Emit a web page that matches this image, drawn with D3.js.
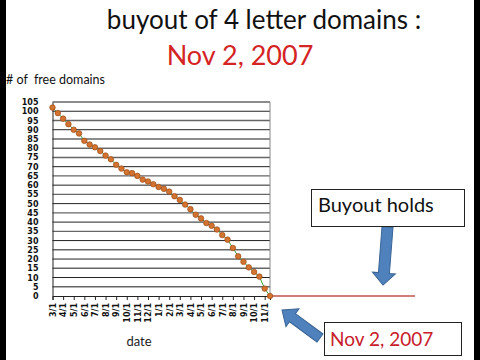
<!DOCTYPE html>
<html>
<head>
<meta charset="utf-8">
<script src="https://cdn.jsdelivr.net/npm/d3@7"></script>
<style>
  body { margin: 0; background: #fff; }
  svg { display: block; }
</style>
</head>
<body>
<svg id="chart" width="480" height="360"></svg>
<script>
// month labels under every second point (points are semi-monthly)
const months = ["3/1", "4/1", "5/1", "6/1", "7/1", "8/1", "9/1", "10/1", "11/1", "12/1",
                "1/1", "2/1", "3/1", "4/1", "5/1", "6/1", "7/1", "8/1", "9/1", "10/1", "11/1"];

// number of free 4 letter domains
const freeDomains = [102, 99, 96, 93, 90, 88, 84, 82, 80.5, 78.5,
                     76, 74, 71, 69, 67, 66.5, 65, 63, 62, 60.5,
                     59, 58, 56.5, 54, 52, 49.5, 47, 44, 42, 39.5,
                     38, 36, 33, 30.5, 26, 21.5, 18.5, 15.5, 13, 10.5,
                     4, 0];

const yTicks = [0, 5, 10, 15, 20, 25, 30, 35, 40, 45, 50, 55, 60, 65, 70, 75, 80, 85, 90, 95, 100, 105];

const svg = d3.select("#chart");
const font = "Lato, 'Open Sans', sans-serif";

const plotL = 52.5, plotR = 270, plotT = 102, plotB = 296;

const x = d3.scaleLinear()
    .domain([0, freeDomains.length - 1])
    .range([plotL, plotR]);

const y = d3.scaleLinear()
    .domain([0, 105])
    .range([plotB, plotT]);

// black strips at the sides
svg.append("rect").attr("x", 0).attr("y", 0).attr("width", 6).attr("height", 360).attr("fill", "#000");
svg.append("rect").attr("x", 474).attr("y", 0).attr("width", 6).attr("height", 360).attr("fill", "#000");

// title
svg.append("text")
    .attr("x", 264).attr("y", 29)
    .attr("text-anchor", "middle")
    .attr("font-family", font).attr("font-size", 26)
    .attr("fill", "#111")
    .text("buyout of 4 letter domains :");

svg.append("text")
    .attr("x", 240).attr("y", 65)
    .attr("text-anchor", "middle")
    .attr("font-family", font).attr("font-size", 27)
    .attr("fill", "#d42424")
    .text("Nov 2, 2007");

svg.append("text")
    .attr("x", 6).attr("y", 84)
    .attr("font-family", font).attr("font-size", 12.5)
    .attr("fill", "#111")
    .style("white-space", "pre")
    .text("# of  free domains");

// gridlines
svg.append("g")
    .selectAll("line")
    .data(yTicks.filter(d => d > 0))
    .enter()
    .append("line")
    .attr("x1", plotL).attr("x2", plotR)
    .attr("y1", d => y(d)).attr("y2", d => y(d))
    .attr("stroke", (d, i) => i % 2 ? "#222" : "#666")
    .attr("stroke-width", (d, i) => i % 2 ? 1 : 1.4);

// right border of plot
svg.append("line")
    .attr("x1", plotR).attr("x2", plotR)
    .attr("y1", plotT).attr("y2", plotB)
    .attr("stroke", "#888");

// y axis
const yAxis = svg.append("g")
    .attr("transform", `translate(${plotL},0)`)
    .call(d3.axisLeft(y).tickValues(yTicks).tickSize(0).tickPadding(14));
yAxis.select(".domain").attr("stroke", "#222");
yAxis.selectAll("text")
    .attr("font-family", "'DejaVu Sans', Verdana, sans-serif")
    .attr("font-weight", "bold")
    .attr("font-size", 8)
    .attr("fill", "#111");

// x axis
const xAxis = svg.append("g")
    .attr("transform", `translate(0,${plotB})`)
    .call(d3.axisBottom(x)
        .tickValues(months.map((m, i) => i * 2))
        .tickFormat(i => months[i / 2])
        .tickSize(4));
xAxis.select(".domain").attr("stroke", "#222");
xAxis.selectAll("line").attr("stroke", "#222");
xAxis.selectAll("text")
    .attr("transform", "rotate(-90)")
    .attr("text-anchor", "end")
    .attr("x", -7).attr("y", 0).attr("dy", "0.35em")
    .attr("font-family", "'DejaVu Sans', Verdana, sans-serif")
    .attr("font-weight", "bold")
    .attr("font-size", 8)
    .attr("fill", "#111");

svg.append("text")
    .attr("x", 139).attr("y", 346)
    .attr("text-anchor", "middle")
    .attr("font-family", font).attr("font-size", 13)
    .attr("fill", "#222")
    .text("date");

// flat line after the buyout
const last = freeDomains.length - 1;
svg.append("line")
    .attr("x1", x(last)).attr("x2", 415)
    .attr("y1", y(0)).attr("y2", y(0))
    .attr("stroke", "#c0504d")
    .attr("stroke-width", 1.5);

// series line and points
const line = d3.line()
    .x((d, i) => x(i))
    .y(d => y(d));

svg.append("path")
    .datum(freeDomains)
    .attr("d", line)
    .attr("fill", "none")
    .attr("stroke", "#3f9a3a")
    .attr("stroke-width", 1);

svg.append("g")
    .selectAll("circle")
    .data(freeDomains)
    .enter()
    .append("circle")
    .attr("cx", (d, i) => x(i))
    .attr("cy", d => y(d))
    .attr("r", 2.8)
    .attr("fill", "#d4722f")
    .attr("stroke", "#8f4512")
    .attr("stroke-width", 0.6);

// block arrow from tail to tip
function arrow(x0, y0, x1, y1, shaft, head, headLen) {
    const len = Math.hypot(x1 - x0, y1 - y0);
    const ang = Math.atan2(y1 - y0, x1 - x0) * 180 / Math.PI;
    const s = shaft / 2, h = head / 2, b = len - headLen;
    const pts = [[0, -s], [b, -s], [b, -h], [len, 0], [b, h], [b, s], [0, s]];
    svg.append("polygon")
        .attr("points", pts.map(p => p.join(",")).join(" "))
        .attr("transform", `translate(${x0},${y0}) rotate(${ang})`)
        .attr("fill", "#4f81bd")
        .attr("stroke", "#3a6595")
        .attr("stroke-width", 1);
}

arrow(387.5, 227, 383, 285, 11, 23, 12);
arrow(320, 338, 282, 310, 10, 22, 13);

// annotation boxes
svg.append("rect")
    .attr("x", 311.5).attr("y", 189.5).attr("width", 153).attr("height", 37)
    .attr("fill", "#fff").attr("stroke", "#222").attr("stroke-width", 1);
svg.append("text")
    .attr("x", 318).attr("y", 212)
    .attr("font-family", font).attr("font-size", 20)
    .attr("fill", "#111")
    .text("Buyout holds");

svg.append("rect")
    .attr("x", 324.5).attr("y", 322.5).attr("width", 137).attr("height", 33)
    .attr("fill", "#fff").attr("stroke", "#222").attr("stroke-width", 1);
svg.append("text")
    .attr("x", 330).attr("y", 345.5)
    .attr("font-family", font).attr("font-size", 19)
    .attr("fill", "#c8202a")
    .text("Nov 2, 2007");
</script>
</body>
</html>
